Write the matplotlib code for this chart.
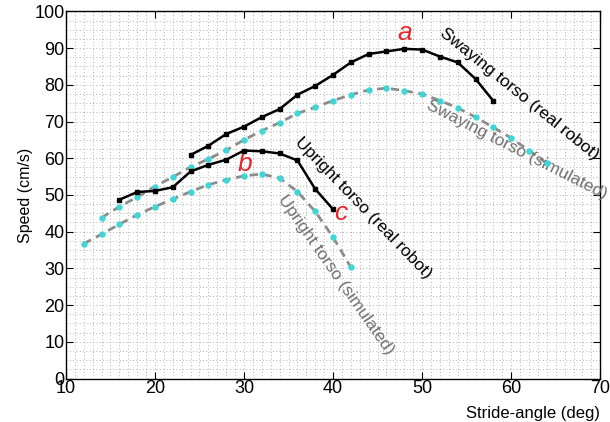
import matplotlib
matplotlib.use("Agg")
import matplotlib.pyplot as plt
import numpy as np

plt.rcParams['font.family'] = ['Liberation Sans', 'DejaVu Sans']

# swaying torso, real robot
sway_real_x = [24, 26, 28, 30, 32, 34, 36, 38, 40, 42, 44, 46, 48, 50, 52, 54, 56, 58]
sway_real_y = [60.9, 63.4, 66.6, 68.6, 71.2, 73.4, 77.3, 79.7, 82.7, 86.1, 88.4, 89.1, 89.8, 89.6, 87.7, 86.1, 81.6, 75.6]

# swaying torso, simulated
sway_sim_x = [14, 16, 18, 20, 22, 24, 26, 28, 30, 32, 34, 36, 38, 40, 42, 44, 46, 48, 50, 52, 54, 56, 58, 60, 62, 64]
sway_sim_y = [43.8, 46.8, 49.4, 52.3, 54.9, 57.6, 59.8, 62.2, 65.0, 67.5, 69.7, 72.2, 73.9, 75.7, 77.3, 78.6, 79.1, 78.4,
              77.5, 75.7, 73.7, 71.2, 68.4, 65.5, 62.1, 58.6]

# upright torso, real robot
up_real_x = [16, 18, 20, 22, 24, 26, 28, 30, 32, 34, 36, 38, 40]
up_real_y = [48.7, 50.8, 51.1, 52.1, 56.4, 58.2, 59.6, 62.1, 61.9, 61.3, 59.4, 51.6, 46.1]

# upright torso, simulated
up_sim_x = [12, 14, 16, 18, 20, 22, 24, 26, 28, 30, 32, 34, 36, 38, 40, 42]
up_sim_y = [36.7, 39.3, 42.0, 44.6, 46.8, 48.9, 50.9, 52.8, 54.1, 55.2, 55.7, 54.6, 50.9, 45.5, 38.5, 30.3]

fig = plt.figure(figsize=(6.1, 4.22), dpi=100)
ax = fig.add_axes([0.108, 0.103, 0.876, 0.87])

# simulated curves: grey dashes with cyan dots
for xs, ys in [(sway_sim_x, sway_sim_y), (up_sim_x, up_sim_y)]:
    ax.plot(xs, ys, color='#8c8c8c', linestyle='--', linewidth=2, dashes=(3, 2), zorder=3)
    ax.plot(xs, ys, linestyle='none', marker='o', markersize=3.6, color='#3fd6d6', zorder=4)

# real robot curves: black with small squares
for xs, ys in [(sway_real_x, sway_real_y), (up_real_x, up_real_y)]:
    ax.plot(xs, ys, color='black', linewidth=1.8, marker='s', markersize=3.3, zorder=5)

# rotated curve labels
ax.text(52.2, 94.5, 'Swaying torso (real robot)', rotation=-39, rotation_mode='anchor',
        ha='left', va='center', fontsize=12.5, color='black')
ax.text(50.6, 74.8, 'Swaying torso (simulated)', rotation=-27, rotation_mode='anchor',
        ha='left', va='center', fontsize=12.5, color='#707070')
ax.text(36.0, 65.0, 'Upright torso (real robot)', rotation=-46, rotation_mode='anchor',
        ha='left', va='center', fontsize=12.5, color='black')
ax.text(34.2, 49.5, 'Upright torso (simulated)', rotation=-55, rotation_mode='anchor',
        ha='left', va='center', fontsize=12.5, color='#707070')

# red point letters
ax.text(48.1, 94.0, 'a', color='#e8262a', fontsize=19, style='italic', ha='center', va='center')
ax.text(30.1, 58.3, 'b', color='#e8262a', fontsize=19, style='italic', ha='center', va='center')
ax.text(40.9, 45.0, 'c', color='#e8262a', fontsize=19, style='italic', ha='center', va='center')

ax.set_xlim(10, 70)
ax.set_ylim(0, 100)
ax.set_xticks(np.arange(10, 71, 10))
ax.set_yticks(np.arange(0, 101, 10))
ax.set_xticks(np.arange(10, 71, 1), minor=True)
ax.set_yticks(np.arange(0, 101, 2.5), minor=True)
ax.tick_params(which='major', direction='in', top=True, right=True, length=5, width=0.8, labelsize=13, pad=1)
ax.tick_params(which='minor', length=0)
ax.grid(which='both', color='#9a9a9a', linewidth=0.6, linestyle=(0, (1, 3)))
ax.set_axisbelow(True)
for s in ax.spines.values():
    s.set_linewidth(1.0)

ax.set_ylabel('Speed (cm/s)', fontsize=11.5, labelpad=1)
ax.set_xlabel('Stride-angle (deg)', fontsize=12, labelpad=1)
ax.xaxis.set_label_coords(1.0, -0.075)
ax.xaxis.label.set_ha('right')

fig.savefig('out.png', dpi=100)
